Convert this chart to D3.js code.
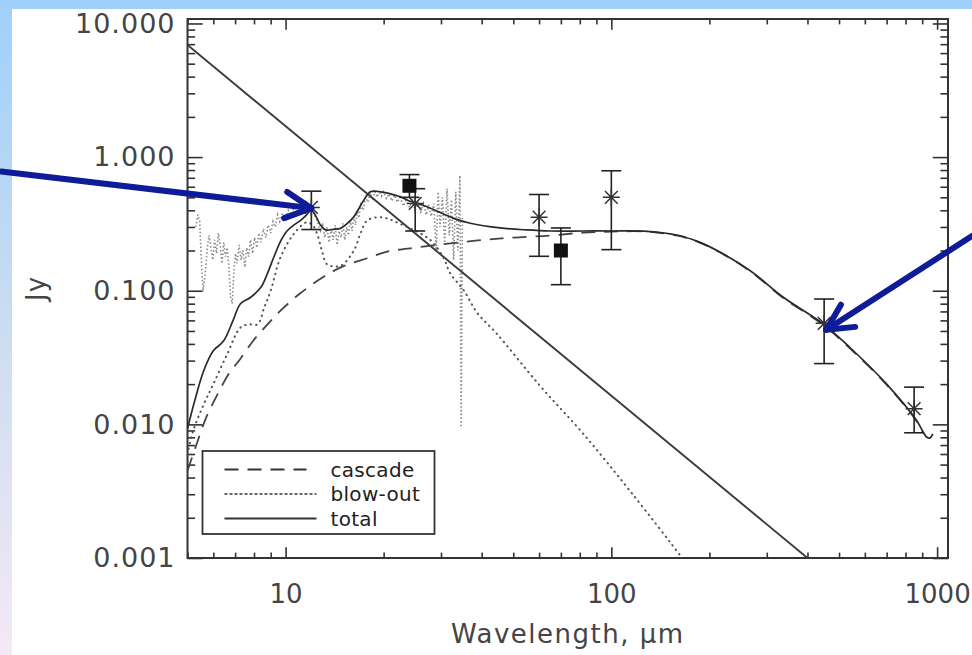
<!DOCTYPE html>
<html>
<head>
<meta charset="utf-8">
<script src="https://cdn.jsdelivr.net/npm/d3@7"></script>
<style>
  body { margin: 0; background: #fff; }
  svg { display: block; font-family: "DejaVu Sans", sans-serif; }
</style>
</head>
<body>
<svg></svg>
<script>
// Photosphere (straight Rayleigh-Jeans line), wavelength in um, flux in Jy
const photoWave = [5, 400]
const photoFlux = [6.9, 0.001]

// total model
const totalWave = [5.0, 5.3, 5.6, 6.0, 6.45, 6.9, 7.27, 7.8, 8.4, 8.8, 9.2, 9.7, 10.1, 10.6, 11.1, 11.6, 12.0, 12.4, 12.8, 13.3, 14.0, 14.75, 15.5, 16.2, 17.4, 18.2, 19.6, 22.5, 24.0, 27.2, 32.8, 36.9, 45.6, 55, 65, 82, 100, 129, 160, 187, 216, 267, 338, 445, 540, 700, 867, 905, 930, 950, 970]
const totalFlux = [0.0093, 0.016, 0.025, 0.0355, 0.042, 0.06, 0.08, 0.089, 0.106, 0.135, 0.178, 0.24, 0.28, 0.31, 0.335, 0.37, 0.40, 0.36, 0.31, 0.285, 0.288, 0.293, 0.32, 0.358, 0.477, 0.55, 0.55, 0.505, 0.47, 0.425, 0.348, 0.32, 0.295, 0.285, 0.28, 0.28, 0.28, 0.278, 0.26, 0.23, 0.194, 0.141, 0.089, 0.057, 0.0376, 0.020, 0.0106, 0.0088, 0.0080, 0.0079, 0.0085]

// cascade (dashed)
const cascadeWave = [5.0, 5.3, 5.7, 6.2, 6.7, 7.27, 8.0, 8.8, 9.65, 11.0, 12.8, 15.0, 17.8, 20.5, 25.4, 38.3, 50, 65, 82, 100, 129, 160, 187, 216, 267, 338, 445, 540, 700, 867, 905]
const cascadeFlux = [0.0045, 0.0068, 0.0112, 0.017, 0.024, 0.031, 0.043, 0.056, 0.071, 0.094, 0.123, 0.152, 0.175, 0.196, 0.211, 0.237, 0.25, 0.259, 0.272, 0.277, 0.277, 0.258, 0.229, 0.193, 0.140, 0.088, 0.056, 0.037, 0.0198, 0.0105, 0.0087]

// blow-out (dotted)
const blowWave = [5.0, 5.2, 5.6, 6.0, 6.6, 7.27, 7.7, 8.2, 8.6, 9.0, 9.65, 10.6, 11.6, 12.1, 12.5, 13.0, 13.4, 14.75, 16.2, 17.0, 17.8, 19.6, 22.5, 27.8, 30.6, 32.0, 35.3, 38.8, 44.4, 60, 82, 115, 165, 180]
const blowFlux = [0.006, 0.0089, 0.014, 0.02, 0.033, 0.053, 0.056, 0.056, 0.075, 0.10, 0.178, 0.266, 0.325, 0.31, 0.266, 0.19, 0.158, 0.154, 0.20, 0.27, 0.335, 0.355, 0.316, 0.24, 0.175, 0.135, 0.10, 0.068, 0.048, 0.0198, 0.0085, 0.0031, 0.001, 0.00075]

// IRS spectrum (grey, noisy)
const specWave = [5.30, 5.38, 5.45, 5.52, 5.58, 5.66, 5.74, 5.82, 5.90, 5.98, 6.06, 6.14, 6.22, 6.30, 6.38, 6.46, 6.54, 6.62, 6.70, 6.78, 6.86, 6.94, 7.02, 7.10, 7.20, 7.30, 7.40, 7.50, 7.60, 7.70, 7.80, 7.92, 8.04, 8.16, 8.28, 8.40, 8.55, 8.70, 8.85, 9.00, 9.15, 9.30, 9.45, 9.60, 9.80, 10.0, 10.2, 10.4, 10.6, 10.8, 11.0, 11.3, 11.6, 11.9, 12.2, 12.5, 12.8, 13.0, 13.2, 13.4, 13.6, 13.8, 14.0, 14.2, 14.4, 14.6, 14.8, 15.0, 15.2, 15.4, 15.6, 15.8, 16.0, 16.2, 16.4, 16.6, 16.8, 17.0, 17.3, 17.6, 17.9, 18.2, 18.5, 18.8, 19.1, 19.4, 19.7, 20.0, 20.4, 20.8, 21.2, 21.6, 22.0, 22.5, 23.0, 23.5, 24.0, 24.5, 25.0, 25.5, 26.0, 26.5, 27.0, 27.5, 28.0, 28.5, 29.0, 29.4, 29.8, 30.3, 30.8, 31.3, 31.8, 32.3, 32.8, 33.3, 33.8, 34.3, 34.6, 34.9]
const specFlux = [0.30, 0.37, 0.33, 0.16, 0.10, 0.13, 0.20, 0.26, 0.21, 0.17, 0.24, 0.19, 0.27, 0.22, 0.16, 0.23, 0.18, 0.21, 0.15, 0.09, 0.08, 0.14, 0.19, 0.16, 0.22, 0.17, 0.20, 0.15, 0.21, 0.18, 0.24, 0.19, 0.25, 0.21, 0.27, 0.23, 0.29, 0.25, 0.31, 0.27, 0.33, 0.30, 0.37, 0.33, 0.38, 0.35, 0.40, 0.37, 0.42, 0.39, 0.43, 0.40, 0.44, 0.41, 0.39, 0.33, 0.28, 0.31, 0.25, 0.30, 0.23, 0.29, 0.24, 0.31, 0.22, 0.28, 0.25, 0.32, 0.24, 0.30, 0.26, 0.34, 0.28, 0.36, 0.31, 0.40, 0.35, 0.44, 0.40, 0.50, 0.46, 0.54, 0.49, 0.55, 0.50, 0.56, 0.51, 0.55, 0.49, 0.53, 0.47, 0.52, 0.46, 0.50, 0.43, 0.49, 0.42, 0.47, 0.40, 0.46, 0.39, 0.45, 0.37, 0.44, 0.36, 0.45, 0.20, 0.55, 0.30, 0.50, 0.22, 0.58, 0.26, 0.48, 0.17, 0.55, 0.20, 0.73, 0.0095, 0.35]

// photometry: asterisks
const starWave = [12, 25, 60, 100, 450, 850]
const starFlux = [0.42, 0.45, 0.355, 0.50, 0.057, 0.0131]
const starHi = [0.556, 0.58, 0.525, 0.79, 0.0867, 0.019]
const starLo = [0.287, 0.28, 0.181, 0.203, 0.0285, 0.00865]

// photometry: filled squares
const sqWave = [24, 70]
const sqFlux = [0.61, 0.20]
const sqHi = [0.74, 0.295]
const sqLo = [0.50, 0.111]

// axis ticks
const xTicks = [10, 100, 1000]
const xTickLabels = ["10", "100", "1000"]
const yTicks = [0.001, 0.01, 0.1, 1, 10]
const yTickLabels = ["0.001", "0.010", "0.100", "1.000", "10.000"]

const legendNames = ["cascade", "blow-out", "total"]

// blue arrows (tail -> tip), data coords
const arrowTail = [[1.34, 0.78], [1280, 0.257]]
const arrowTip = [[12.0, 0.415], [457, 0.051]]

const W = 972, H = 655
const margin = { top: 19, right: 24, bottom: 97, left: 187.5 },
    width = W - margin.left - margin.right,
    height = H - margin.top - margin.bottom

const svg = d3.select("svg").attr("width", W).attr("height", H)

// slide background
const defs = svg.append("defs")
const grad = defs.append("linearGradient").attr("id", "side").attr("x1", 0).attr("y1", 0).attr("x2", 0).attr("y2", 1)
grad.append("stop").attr("offset", "0%").attr("stop-color", "#9fd0fb")
grad.append("stop").attr("offset", "55%").attr("stop-color", "#cfdef0")
grad.append("stop").attr("offset", "100%").attr("stop-color", "#f5e8f6")
svg.append("rect").attr("width", W).attr("height", H).attr("fill", "#fff")
svg.append("rect").attr("width", W).attr("height", 9).attr("fill", "#9fd0fb")
svg.append("rect").attr("y", 0).attr("width", 12).attr("height", H).attr("fill", "url(#side)")

defs.append("clipPath").attr("id", "clip")
    .append("rect").attr("width", width).attr("height", height)

const x = d3.scaleLog().domain([5, 1080]).range([0, width])
const y = d3.scaleLog().domain([0.001, 10.8]).range([height, 0])

const g = svg.append("g").attr("transform", "translate(" + margin.left + "," + margin.top + ")")

// axes: ticks inside on all four sides
const xMinor = x.ticks().filter(d => !xTicks.includes(d))
const yMinor = y.ticks().filter(d => !yTicks.some(t => Math.abs(t - d) / t < 1e-6))
const xMaj = 10.8, yMaj = 15.2

function styleAxis(sel) {
    sel.select(".domain").remove()
    sel.selectAll(".tick line").attr("stroke", "#333").attr("stroke-width", 1.6)
    sel.selectAll("text").attr("fill", "#444").attr("font-size", 27)
        .attr("font-family", "DejaVu Sans").attr("letter-spacing", 1)
}

g.append("g").attr("transform", "translate(0," + height + ")")
    .call(d3.axisBottom(x).tickValues(xTicks).tickSize(-xMaj).tickPadding(27)
        .tickFormat((d, i) => xTickLabels[i]))
    .call(styleAxis)
    .call(a => a.selectAll("text").attr("font-size", 26).attr("letter-spacing", 0))
g.append("g").attr("transform", "translate(0," + height + ")")
    .call(d3.axisBottom(x).tickValues(xMinor).tickSize(-xMaj / 2).tickFormat(""))
    .call(styleAxis)
g.append("g")
    .call(d3.axisTop(x).tickValues(xTicks).tickSize(-xMaj).tickFormat(""))
    .call(styleAxis)
g.append("g")
    .call(d3.axisTop(x).tickValues(xMinor).tickSize(-xMaj / 2).tickFormat(""))
    .call(styleAxis)

g.append("g")
    .call(d3.axisLeft(y).tickValues(yTicks).tickSize(-yMaj).tickPadding(12)
        .tickFormat((d, i) => yTickLabels[i]))
    .call(styleAxis)
g.append("g")
    .call(d3.axisLeft(y).tickValues(yMinor).tickSize(-yMaj / 2).tickFormat(""))
    .call(styleAxis)
g.append("g").attr("transform", "translate(" + width + ",0)")
    .call(d3.axisRight(y).tickValues(yTicks).tickSize(-yMaj).tickFormat(""))
    .call(styleAxis)
g.append("g").attr("transform", "translate(" + width + ",0)")
    .call(d3.axisRight(y).tickValues(yMinor).tickSize(-yMaj / 2).tickFormat(""))
    .call(styleAxis)

// frame
g.append("rect").attr("width", width).attr("height", height)
    .attr("fill", "none").attr("stroke", "#333").attr("stroke-width", 2)

// axis titles
g.append("text")
    .attr("x", width / 2).attr("y", height + 85)
    .attr("text-anchor", "middle").attr("fill", "#444")
    .attr("font-size", 26).attr("letter-spacing", 1.5)
    .text("Wavelength, \u03bcm")
g.append("text")
    .attr("transform", "translate(" + (36 - margin.left) + "," + (height / 2) + ") rotate(-90)")
    .attr("text-anchor", "middle").attr("dominant-baseline", "central")
    .attr("fill", "#444").attr("font-size", 26).attr("letter-spacing", 1)
    .text("Jy")

// curves
const zip = (a, b) => a.map((d, i) => [d, b[i]])
const smooth = d3.line().x(d => x(d[0])).y(d => y(d[1])).curve(d3.curveCatmullRom.alpha(0.5))
const straight = d3.line().x(d => x(d[0])).y(d => y(d[1]))

const plot = g.append("g").attr("clip-path", "url(#clip)")

plot.append("path").datum(zip(specWave, specFlux))
    .attr("d", straight).attr("fill", "none")
    .attr("stroke", "#8a8a8a").attr("stroke-width", 1.6)
    .attr("stroke-dasharray", "1.5,2.2")

plot.append("path").datum(zip(photoWave, photoFlux))
    .attr("d", straight).attr("fill", "none")
    .attr("stroke", "#3a3a3a").attr("stroke-width", 1.9)

plot.append("path").datum(zip(cascadeWave, cascadeFlux))
    .attr("d", smooth).attr("fill", "none")
    .attr("stroke", "#444").attr("stroke-width", 1.8)
    .attr("stroke-dasharray", "14,9")

plot.append("path").datum(zip(blowWave, blowFlux))
    .attr("d", smooth).attr("fill", "none")
    .attr("stroke", "#555").attr("stroke-width", 2)
    .attr("stroke-linecap", "round")
    .attr("stroke-dasharray", "0.5,5")

plot.append("path").datum(zip(totalWave, totalFlux))
    .attr("d", smooth).attr("fill", "none")
    .attr("stroke", "#2a2a2a").attr("stroke-width", 1.7)

// error bars
const capW = 10
function errorBars(wave, lo, hi) {
    const eb = g.append("g").attr("stroke", "#222").attr("stroke-width", 1.6)
    eb.selectAll("line.v").data(wave).enter().append("line")
        .attr("x1", d => x(d)).attr("x2", d => x(d))
        .attr("y1", (d, i) => y(lo[i])).attr("y2", (d, i) => y(hi[i]))
    eb.selectAll("line.h").data(wave).enter().append("line")
        .attr("x1", d => x(d) - capW).attr("x2", d => x(d) + capW)
        .attr("y1", (d, i) => y(hi[i])).attr("y2", (d, i) => y(hi[i]))
    eb.selectAll("line.l").data(wave).enter().append("line")
        .attr("x1", d => x(d) - capW).attr("x2", d => x(d) + capW)
        .attr("y1", (d, i) => y(lo[i])).attr("y2", (d, i) => y(lo[i]))
}
errorBars(starWave, starLo, starHi)
errorBars(sqWave, sqLo, sqHi)

// asterisks
const r = 8.5, rd = r * 0.75
const asterisk = "M0," + (-r) + "V" + r + "M" + (-r) + ",0H" + r +
    "M" + (-rd) + "," + (-rd) + "L" + rd + "," + rd + "M" + (-rd) + "," + rd + "L" + rd + "," + (-rd)
g.selectAll("path.star").data(starWave).enter().append("path")
    .attr("transform", (d, i) => "translate(" + x(d) + "," + y(starFlux[i]) + ")")
    .attr("d", asterisk).attr("fill", "none")
    .attr("stroke", "#333").attr("stroke-width", 1.5)

// squares
g.selectAll("rect.sq").data(sqWave).enter().append("rect")
    .attr("x", d => x(d) - 7).attr("y", (d, i) => y(sqFlux[i]) - 7)
    .attr("width", 14).attr("height", 14).attr("fill", "#111")

// legend
const lg = g.append("g").attr("transform", "translate(15," + (height - 107) + ")")
lg.append("rect").attr("width", 232).attr("height", 83)
    .attr("fill", "#fff").attr("stroke", "#333").attr("stroke-width", 1.8)
const lgStyles = [
    { dash: "14,9", w: 1.8 },
    { dash: "3,2", w: 1.6 },
    { dash: null, w: 1.8 }
]
legendNames.forEach((name, i) => {
    const yy = 18.5 + i * 24.5
    lg.append("line").attr("x1", 22).attr("x2", i === 0 ? 104 : 114)
        .attr("y1", yy).attr("y2", yy)
        .attr("stroke", "#333").attr("stroke-width", lgStyles[i].w)
        .attr("stroke-dasharray", lgStyles[i].dash)
    lg.append("text").attr("x", 128).attr("y", yy + 7)
        .attr("font-size", 20).attr("fill", "#222").attr("letter-spacing", 0.3)
        .text(name)
})

// blue arrows
const arrowColor = "#0f1c98"
const ag = g.append("g").attr("stroke", arrowColor).attr("stroke-width", 6)
    .attr("stroke-linecap", "round").attr("stroke-linejoin", "round").attr("fill", "none")
arrowTip.forEach((tip, i) => {
    const tx = x(tip[0]), ty = y(tip[1])
    const sx = x(arrowTail[i][0]), sy = y(arrowTail[i][1])
    const ang = Math.atan2(sy - ty, sx - tx)
    const len = 29, spread = 27 * Math.PI / 180
    ag.append("line").attr("x1", sx).attr("y1", sy).attr("x2", tx).attr("y2", ty)
    ag.append("path").attr("d",
        "M" + (tx + len * Math.cos(ang + spread)) + "," + (ty + len * Math.sin(ang + spread)) +
        "L" + tx + "," + ty +
        "L" + (tx + len * Math.cos(ang - spread)) + "," + (ty + len * Math.sin(ang - spread)))
})
</script>
</body>
</html>
